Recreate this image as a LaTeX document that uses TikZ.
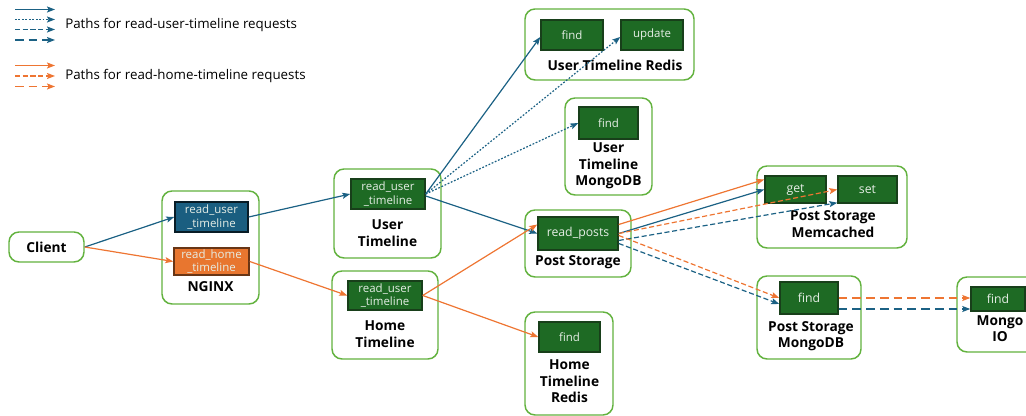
\documentclass[tikz,border=0pt]{standalone}
\usepackage{fontspec}
\setmainfont{Open Sans}
\usetikzlibrary{arrows.meta,fit,calc}
\definecolor{gborder}{HTML}{62B23E}
\definecolor{dgreen}{HTML}{1E6A24}
\definecolor{dgreenb}{HTML}{183F1A}
\definecolor{ublue}{HTML}{1B6184}
\definecolor{ubox}{HTML}{1A5E80}
\definecolor{horange}{HTML}{EE7532}
\definecolor{hbox}{HTML}{E8762F}
\definecolor{itext}{HTML}{E6EEE6}
\tikzset{
  outerbox/.style={draw=gborder, line width=1.1pt, rounded corners=7.5pt, inner sep=0pt, fill=white},
  innerbox/.style={draw=dgreenb, fill=dgreen, line width=1.1pt, inner sep=0pt},
  bluebox/.style={innerbox, fill=ubox, draw=black!70!ubox},
  orangebox/.style={innerbox, fill=hbox, draw=black!55!hbox},
  itxt/.style={text=itext, align=center, inner sep=0pt, font=\fontsize{8.6pt}{9.8pt}\selectfont},
  itxtb/.style={itxt, font=\fontsize{9.2pt}{10pt}\selectfont},
  lbl/.style={align=center, inner sep=0pt, font=\fontsize{10.3pt}{12.4pt}\selectfont\bfseries},
  legtext/.style={anchor=west, inner sep=0pt, font=\fontsize{10pt}{12pt}\selectfont},
  conn/.style={line width=0.9pt, -{Stealth[length=6pt,width=4.5pt,inset=1.2pt]}},
  ua/.style={conn, draw=ublue, color=ublue},
  ha/.style={conn, draw=horange, color=horange},
  dots/.style={dash pattern=on 1.3pt off 1.3pt},
  shortdash/.style={dash pattern=on 3.8pt off 2pt},
  longdash/.style={dash pattern=on 6.5pt off 3.8pt},
}
\begin{document}
\begin{tikzpicture}[x=0.75pt,y=-0.75pt]
\useasboundingbox (0,0) rectangle (1026,416);
\clip (0,0) rectangle (1026,416);

% legend
\coordinate (l1a) at (15,9.5);  \coordinate (l1b) at (55,9.5);
\coordinate (l2a) at (15,19.5); \coordinate (l2b) at (55,19.5);
\coordinate (l3a) at (15,29.5); \coordinate (l3b) at (55,29.5);
\coordinate (l4a) at (15,40);   \coordinate (l4b) at (55,40);
\coordinate (l5a) at (15,65.5); \coordinate (l5b) at (55,65.5);
\coordinate (l6a) at (15,76);   \coordinate (l6b) at (55,76);
\coordinate (l7a) at (15,86.5); \coordinate (l7b) at (55,86.5);
\draw[ua] (l1a) -- (l1b);
\draw[ua,dots] (l2a) -- (l2b);
\draw[ua,shortdash] (l3a) -- (l3b);
\draw[ua,longdash] (l4a) -- (l4b);
\draw[ha] (l5a) -- (l5b);
\draw[ha,shortdash] (l6a) -- (l6b);
\draw[ha,longdash] (l7a) -- (l7b);
\node[legtext] (leg1) at (65,25) {Paths for read-user-timeline requests};
\node[legtext] (leg2) at (65,76) {Paths for read-home-timeline requests};

% outer boxes
\node[outerbox, fit={(9,232) (84,262)}] (client) {};
\node[outerbox, fit={(162,191) (259,304)}] (nginx) {};
\node[outerbox, fit={(334,169) (441,258)}] (ut) {};
\node[outerbox, fit={(332,271) (438,359)}] (ht) {};
\node[outerbox, fit={(525,210) (631,277)}] (ps) {};
\node[outerbox, fit={(525,312) (613,415)}] (htr) {};
\node[outerbox, fit={(525,9) (694,80)}] (utr) {};
\node[outerbox, fit={(565,98) (652,195)}] (utm) {};
\node[outerbox, fit={(757,166) (907,248)}] (psmc) {};
\node[outerbox, fit={(757,276) (861,359)}] (psmdb) {};
\node[outerbox, fit={(957,277) (1045,352)}] (mio) {};

% labels
\node[lbl] (lclient) at (client.center) {Client};
\node[lbl] (lnginx) at (210.5,287) {NGINX};
\node[lbl] (lut) at (387.5,233) {User\\Timeline};
\node[lbl] (lht) at (385,334) {Home\\Timeline};
\node[lbl] (lps) at (578,262) {Post Storage};
\node[lbl] (lhtr) at (569.5,381.5) {Home\\Timeline\\Redis};
\node[lbl] (lutr) at (615,65) {User Timeline Redis};
\node[lbl] (lutm) at (608.5,166) {User\\Timeline\\MongoDB};
\node[lbl] (lpsmc) at (833,224) {Post Storage\\Memcached};
\node[lbl] (lpsmdb) at (811,336) {Post Storage\\MongoDB};
\node[lbl] (lmio) at (1000,328.5) {Mongo\\IO};

% inner boxes
\node[bluebox, fit={(175,202) (248,232)}] (ngu) {};
\node[orangebox, fit={(174,248) (249,275)}] (ngh) {};
\node[innerbox, fit={(351,179) (425,209)}] (utrut) {};
\node[innerbox, fit={(348,281) (422,310)}] (htrut) {};
\node[innerbox, fit={(538,217) (618,250)}] (rp) {};
\node[innerbox, fit={(539,322) (600,352)}] (htrf) {};
\node[innerbox, fit={(541,20) (603,50)}] (utrf) {};
\node[innerbox, fit={(621,20) (683,50)}] (utru) {};
\node[innerbox, fit={(579,107) (638,139)}] (utmf) {};
\node[innerbox, fit={(765,176) (826,203)}] (get) {};
\node[innerbox, fit={(838,176) (897,203)}] (set) {};
\node[innerbox, fit={(780,282) (838,314)}] (psmf) {};
\node[innerbox, fit={(971,287) (1025,311)}] (mf) {};

% inner texts
\node[itxt] (tngu) at (ngu.center) {read\_user\\\_timeline};
\node[itxt] (tngh) at (ngh.center) {read\_home\\\_timeline};
\node[itxt] (tutrut) at (utrut.center) {read\_user\\\_timeline};
\node[itxt] (thtrut) at (htrut.center) {read\_user\\\_timeline};
\node[itxtb] (trp) at (rp.center) {read\_posts};
\node[itxt] (thtrf) at (htrf.center) {find};
\node[itxt] (tutrf) at (utrf.center) {find};
\node[itxt] (tutru) at (utru.center) {update};
\node[itxt] (tutmf) at (utmf.center) {find};
\node[itxtb] (tget) at (get.center) {get};
\node[itxtb] (tset) at (set.center) {set};
\node[itxtb] (tpsmf) at (psmf.center) {find};
\node[itxtb] (tmf) at (mf.center) {find};

% read-user-timeline paths (blue)
\draw[ua] (client.east) -- (ngu.west);
\draw[ua] (ngu.east) -- (utrut.west);
\draw[ua] (utrut.east) -- ($(utrf.west)+(0,2)$);
\draw[ua,dots] (utrut.east) -- ($(utru.west)+(0,2)$);
\draw[ua,dots] (utrut.east) -- (utmf.west);
\draw[ua] ($(utrut.east)+(0,2)$) -- (rp.west);
\draw[ua] (rp.east) -- (get.west);
\draw[ua,shortdash] ($(rp.east)+(0,7)$) -- ($(set.south west)+(0,-1)$);
\draw[ua,shortdash] ($(rp.east)+(0,10)$) -- ($(psmf.west)+(0,6)$);
\draw[ua,longdash] ($(psmf.east)+(0,11)$) -- ($(mf.west)+(0,10)$);

% read-home-timeline paths (orange)
\draw[ha] (client.east) -- (ngh.west);
\draw[ha] (ngh.east) -- (htrut.west);
\draw[ha] (htrut.east) -- ($(rp.west)+(0,-9)$);
\draw[ha] (htrut.east) -- (htrf.west);
\draw[ha] ($(rp.east)+(0,-9)$) -- ($(get.west)+(0,-10)$);
\draw[ha,shortdash] (rp.east) -- (set.west);
\draw[ha,shortdash] ($(rp.east)+(0,2)$) -- (psmf.west);
\draw[ha,longdash] (psmf.east) -- ($(mf.west)+(0,-1)$);
\end{tikzpicture}
\end{document}
